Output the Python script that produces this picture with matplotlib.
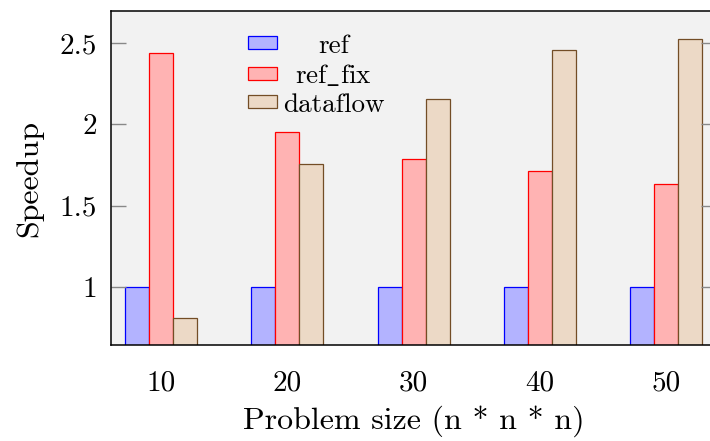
import numpy as np
import matplotlib
matplotlib.use('Agg')
import matplotlib.pyplot as plt

plt.rcParams['font.family'] = ['cmr10', 'DejaVu Serif']
plt.rcParams['mathtext.fontset'] = 'cm'
plt.rcParams['axes.formatter.use_mathtext'] = True
plt.rcParams['font.size'] = 19.5

# problem sizes and measured speedups
sizes = [10, 20, 30, 40, 50]
ref = [1.0, 1.0, 1.0, 1.0, 1.0]
ref_fix = [2.437, 1.954, 1.784, 1.710, 1.632]
dataflow = [0.809, 1.757, 2.154, 2.459, 2.523]

series_names = ['ref', r'$\mathrm{ref\_fix}$', 'dataflow']
yticks = [1, 1.5, 2, 2.5]
ytick_labels = ['1', '1.5', '2', '2.5']

fig = plt.figure(figsize=(7.1, 4.41), dpi=100)
ax = fig.add_axes([0.156, 0.217, 0.853, 0.757])
ax.set_facecolor('#f2f2f2')

bw = 1.9
x = np.array(sizes, dtype=float)
ax.bar(x - bw, ref, bw, color='#b3b3ff', edgecolor='#0000ff', linewidth=0.9, label=series_names[0])
ax.bar(x, ref_fix, bw, color='#ffb3b3', edgecolor='#ff0000', linewidth=0.9, label=series_names[1])
ax.bar(x + bw, dataflow, bw, color='#ecd9c6', edgecolor='#734d26', linewidth=0.9, label=series_names[2])

ax.set_xlim(6, 54)
ax.set_ylim(0.639, 2.695)
ax.set_xticks(sizes)
ax.set_xticklabels([str(s) for s in sizes], fontsize=21)
ax.set_yticks(yticks)
ax.set_yticklabels(ytick_labels, fontsize=21)
ax.tick_params(axis='x', length=0, pad=18)
ax.tick_params(axis='y', direction='in', length=11, width=1, color='#888888',
               right=True, pad=10)
for s in ax.spines.values():
    s.set_linewidth(1.1)

ax.set_xlabel('Problem size (n * n * n)', fontsize=23, labelpad=6)
ax.set_ylabel('Speedup', fontsize=23, labelpad=12)

leg = ax.legend(loc='upper left', bbox_to_anchor=(0.226, 0.933), frameon=False,
                handlelength=1.1, handleheight=0.35, handletextpad=0.2,
                labelspacing=0.17, borderpad=0, borderaxespad=0)

# centre the legend labels like pgfplots does
fig.canvas.draw()
widths = [t.get_window_extent().width for t in leg.get_texts()]
wmax = max(widths)
for t, w in zip(leg.get_texts(), widths):
    t.set_x((wmax - w) / 2)

fig.savefig('out.png', dpi=100)
